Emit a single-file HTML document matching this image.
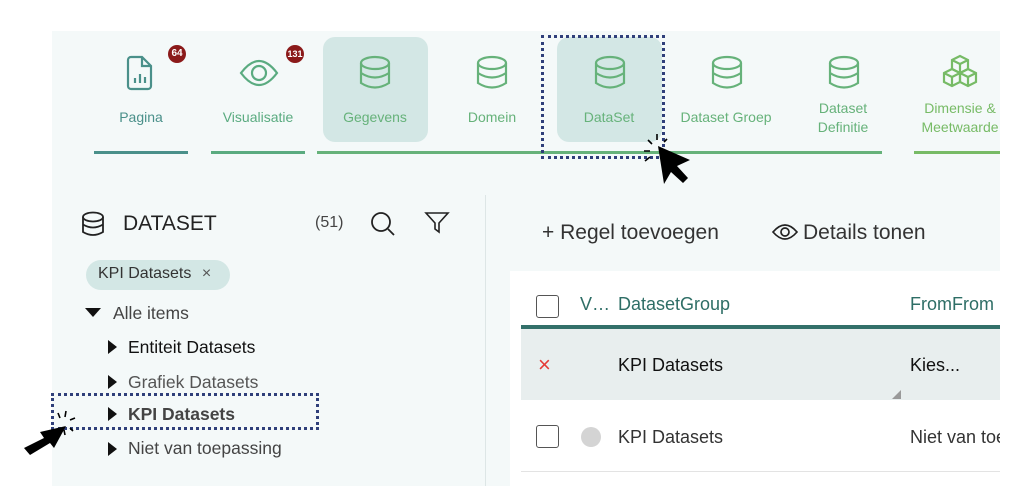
<!DOCTYPE html>
<html><head><meta charset="utf-8"><style>
*{margin:0;padding:0;box-sizing:border-box}
body{width:1016px;height:486px;background:#fff;position:relative;overflow:hidden;font-family:"Liberation Sans",sans-serif}
.a{position:absolute}
.bg{left:52px;top:31px;width:948px;height:455px;background:#f4f9f9}
.lbl{font-size:14px;text-align:center;width:110px}
.sel{background:#d3e7e5;border-radius:12px}
.badge{width:18px;height:18px;border-radius:9px;background:#8b1a1a;color:#fff;font-size:10px;text-align:center;line-height:18px;font-weight:bold}
.bar{height:3px;top:151px}
.dot{border:3px dotted #2f3f7a}
.tree{font-size:17.5px;color:#333}
.tri{width:0;height:0;border-top:7px solid transparent;border-bottom:7px solid transparent;border-left:9px solid #111}
</style></head><body>
<div class="a bg"></div>

<div class="a sel" style="left:323px;top:37px;width:105px;height:105px"></div>
<div class="a sel" style="left:557px;top:37px;width:105px;height:105px"></div>

<svg class="a" style="left:0;top:0" width="1016" height="200">
 <g fill="none" stroke-width="2.2">
  <path d="M131 57h11l9 9v20a3 3 0 0 1-3 3h-17a3 3 0 0 1-3-3v-26a3 3 0 0 1 3-3z M142 57v9h9 M135 83v-5 M140 83v-9 M145 83v-6" stroke="#4a908a"/>
  <path d="M241 73q18-24 36 0q-18 24-36 0z" stroke="#5aab80"/>
  <circle cx="259" cy="73" r="7" stroke="#5aab80"/>
 </g>
 <g fill="none" stroke="#66b27a" stroke-width="2.2">
  <g transform="translate(375,73)"><ellipse cx="0" cy="-10" rx="14" ry="6"/><path d="M-14 -10v20q14 9 28 0v-20 M-14 0q14 9 28 0"/></g>
  <g transform="translate(492,73)"><ellipse cx="0" cy="-10" rx="14" ry="6"/><path d="M-14 -10v20q14 9 28 0v-20 M-14 0q14 9 28 0"/></g>
  <g transform="translate(610,73)"><ellipse cx="0" cy="-10" rx="14" ry="6"/><path d="M-14 -10v20q14 9 28 0v-20 M-14 0q14 9 28 0"/></g>
  <g transform="translate(727,73)"><ellipse cx="0" cy="-10" rx="14" ry="6"/><path d="M-14 -10v20q14 9 28 0v-20 M-14 0q14 9 28 0"/></g>
  <g transform="translate(844,73)"><ellipse cx="0" cy="-10" rx="14" ry="6"/><path d="M-14 -10v20q14 9 28 0v-20 M-14 0q14 9 28 0"/></g>
  <g stroke="#77bb66"><path d="M952 60l8-4 8 4v9l-8 4-8-4z M952 60l8 4 8-4 M960 64v9"/><path d="M944 73l8-4 8 4v9l-8 4-8-4z M944 73l8 4 8-4 M952 77v9"/><path d="M960 73l8-4 8 4v9l-8 4-8-4z M960 73l8 4 8-4 M968 77v9"/></g>
 </g>
</svg>
<div class="a badge" style="left:168px;top:45px">64</div>
<div class="a badge" style="left:286px;top:45px;font-size:9px">131</div>

<div class="a lbl" style="left:86px;top:109px;color:#4a908a">Pagina</div>
<div class="a lbl" style="left:203px;top:109px;color:#5aab80">Visualisatie</div>
<div class="a lbl" style="left:320px;top:109px;color:#66b27a">Gegevens</div>
<div class="a lbl" style="left:437px;top:109px;color:#66b27a">Domein</div>
<div class="a lbl" style="left:554px;top:109px;color:#66b27a">DataSet</div>
<div class="a lbl" style="left:671px;top:109px;color:#66b27a">Dataset Groep</div>
<div class="a lbl" style="left:788px;top:99px;color:#66b27a;line-height:19px">Dataset<br>Definitie</div>
<div class="a lbl" style="left:905px;top:99px;color:#77bb66;line-height:19px">Dimensie &amp;<br>Meetwaarde</div>

<div class="a bar" style="left:94px;width:94px;background:#4a908a"></div>
<div class="a bar" style="left:211px;width:94px;background:#5aab80"></div>
<div class="a bar" style="left:317px;width:565px;background:#66b27a"></div>
<div class="a bar" style="left:914px;width:86px;background:#77bb66"></div>

<div class="a dot" style="left:541px;top:35px;width:124px;height:124px"></div>
<svg class="a" style="left:640px;top:130px" width="50" height="60">
 <path d="M18 16l6 38 7-12 12 11 5-5-11-12 13-6z" fill="#000"/>
 <g stroke="#000" stroke-width="1.6"><path d="M4 21h6 M8 10l4 4 M17 4v6 M27 9l-3 3 M5 31l5-4"/></g>
</svg>

<!-- left panel -->
<div class="a" style="left:485px;top:195px;width:1px;height:291px;background:#dde6e6"></div>
<svg class="a" style="left:80px;top:210px" width="26" height="28"><g fill="none" stroke="#222" stroke-width="1.8"><ellipse cx="13" cy="7" rx="10" ry="4.5"/><path d="M3 7v15q10 6 20 0v-15 M3 14.5q10 6 20 0"/></g></svg>
<div class="a" style="left:123px;top:212px;font-size:21px;color:#222">DATASET</div>
<div class="a" style="left:315px;top:214px;font-size:16px;color:#444">(51)</div>
<svg class="a" style="left:368px;top:210px" width="30" height="28"><g fill="none" stroke="#222" stroke-width="1.8"><circle cx="13" cy="12" r="9"/><path d="M20 19l6 6"/></g></svg>
<svg class="a" style="left:424px;top:210px" width="28" height="26"><path d="M2 3h22l-9 10v9l-4-3v-6z" fill="none" stroke="#222" stroke-width="1.6"/></svg>
<div class="a" style="left:86px;top:260px;width:144px;height:30px;border-radius:15px;background:#d3e7e5;font-size:16px;color:#333;padding:5px 0 0 12px;white-space:nowrap">KPI Datasets <span style="margin-left:6px;color:#555">×</span></div>

<div class="a" style="left:85px;top:308px;width:0;height:0;border-left:8px solid transparent;border-right:8px solid transparent;border-top:9px solid #111"></div>
<div class="a tree" style="left:113px;top:303px;color:#444">Alle items</div>
<div class="a tri" style="left:108px;top:340px"></div>
<div class="a tree" style="left:128px;top:337px;color:#111">Entiteit Datasets</div>
<div class="a tri" style="left:108px;top:375px"></div>
<div class="a tree" style="left:128px;top:372px;color:#555">Grafiek Datasets</div>
<div class="a tri" style="left:108px;top:407px"></div>
<div class="a tree" style="left:128px;top:404px;color:#444;font-weight:bold">KPI Datasets</div>
<div class="a tri" style="left:108px;top:442px"></div>
<div class="a tree" style="left:128px;top:438px;color:#444">Niet van toepassing</div>
<div class="a dot" style="left:51px;top:393px;width:268px;height:37px"></div>
<svg class="a" style="left:20px;top:408px" width="60" height="50">
 <path d="M4 40l20-10-4-6 26-6-12 22-4-5-20 12z" fill="#000"/>
 <g stroke="#000" stroke-width="1.6"><path d="M38 5l2 5 M46 3l-1 6 M55 10l-5 2 M50 20l3 3 M44 22l1 5"/></g>
</svg>

<!-- right panel -->
<div class="a" style="left:542px;top:221px;font-size:21px;color:#333">+ Regel toevoegen</div>
<svg class="a" style="left:771px;top:222px" width="28" height="20"><path d="M2 10q12-14 24 0q-12 14-24 0z" fill="none" stroke="#222" stroke-width="1.7"/><circle cx="14" cy="10" r="4" fill="none" stroke="#222" stroke-width="1.7"/></svg>
<div class="a" style="left:803px;top:221px;font-size:21px;color:#333">Details tonen</div>

<div class="a" style="left:510px;top:271px;width:490px;height:215px;background:#fff"></div>
<div class="a" style="left:536px;top:295px;width:23px;height:23px;border:1.5px solid #555;border-radius:3px"></div>
<div class="a" style="left:580px;top:294px;font-size:18px;color:#2e6e66">V…</div>
<div class="a" style="left:618px;top:294px;font-size:18px;color:#2e6e66">DatasetGroup</div>
<div class="a" style="left:910px;top:294px;font-size:18px;color:#2e6e66;width:90px;overflow:hidden;white-space:nowrap">FromFrom</div>
<div class="a" style="left:521px;top:325px;width:479px;height:4px;background:#33706a"></div>
<div class="a" style="left:521px;top:329px;width:479px;height:71px;background:#e8eeee"></div>
<div class="a" style="left:538px;top:352px;font-size:22px;color:#e53935">×</div>
<div class="a" style="left:618px;top:355px;font-size:18px;color:#111">KPI Datasets</div>
<div class="a" style="left:910px;top:355px;font-size:18px;color:#111">Kies...</div>
<div class="a" style="left:892px;top:390px;width:0;height:0;border-left:9px solid transparent;border-bottom:9px solid #999"></div>
<div class="a" style="left:536px;top:425px;width:23px;height:23px;border:1.5px solid #555;border-radius:3px"></div>
<div class="a" style="left:581px;top:427px;width:20px;height:20px;border-radius:10px;background:#d4d4d4"></div>
<div class="a" style="left:618px;top:427px;font-size:18px;color:#333">KPI Datasets</div>
<div class="a" style="left:910px;top:427px;font-size:18px;color:#333;width:90px;overflow:hidden;white-space:nowrap">Niet van toepassing</div>
<div class="a" style="left:521px;top:471px;width:479px;height:1px;background:#e3e3e3"></div>
</body></html>
